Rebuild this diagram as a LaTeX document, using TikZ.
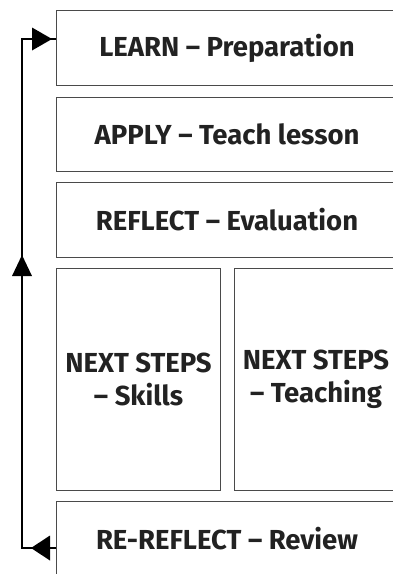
\documentclass[tikz,border=0pt]{standalone}
\usepackage{fontspec}
\setmainfont{Fira Sans}
\usetikzlibrary{arrows.meta}
\definecolor{boxline}{HTML}{4A4A4A}
\definecolor{txt}{HTML}{222222}
\begin{document}
\begin{tikzpicture}[x=1pt,y=-1pt,
  stage/.style={draw=boxline,line width=1pt,rectangle,inner sep=0pt,
    text=txt,font=\bfseries\fontsize{27.5}{33}\selectfont,align=center},
  flow/.style={line width=2pt,draw=black}]
\useasboundingbox (0,0) rectangle (393,574);
\begin{scope}
\clip (0,0) rectangle (393,574);
\node[stage,minimum width=341pt,minimum height=75pt,anchor=north west] (learn) at (56,10) {LEARN – Preparation};
\node[stage,minimum width=341pt,minimum height=74pt,anchor=north west] (apply) at (56,97) {APPLY – Teach lesson};
\node[stage,minimum width=341pt,minimum height=75pt,anchor=north west] (reflect) at (56,182) {REFLECT – Evaluation};
\node[stage,minimum width=164pt,minimum height=222pt,anchor=north west] (skills) at (56,268) {NEXT STEPS\\– Skills};
\node[stage,minimum width=163pt,minimum height=222pt,anchor=north west] (teach) at (234,268) {NEXT STEPS\\– Teaching};
\node[stage,minimum width=341pt,minimum height=75pt,anchor=north west] (rerefl) at (56,501) {RE-REFLECT – Review};
\end{scope}
\coordinate (bl) at (22,548);
\coordinate (tl) at (22,39);
\coordinate (mid) at (22,255);
\draw[flow] (rerefl.west |- bl) -- (bl) -- (tl) -- (tl -| learn.west);
\fill[black] (learn.west |- tl) ++(-4,0) -- ++(-20,-11.5) -- ++(0,23) -- cycle;
\fill[black] (mid) -- ++(-10,21) -- ++(20,0) -- cycle;
\fill[black] (31,548) -- ++(19,-12.5) -- ++(0,25) -- cycle;
\end{tikzpicture}
\end{document}
